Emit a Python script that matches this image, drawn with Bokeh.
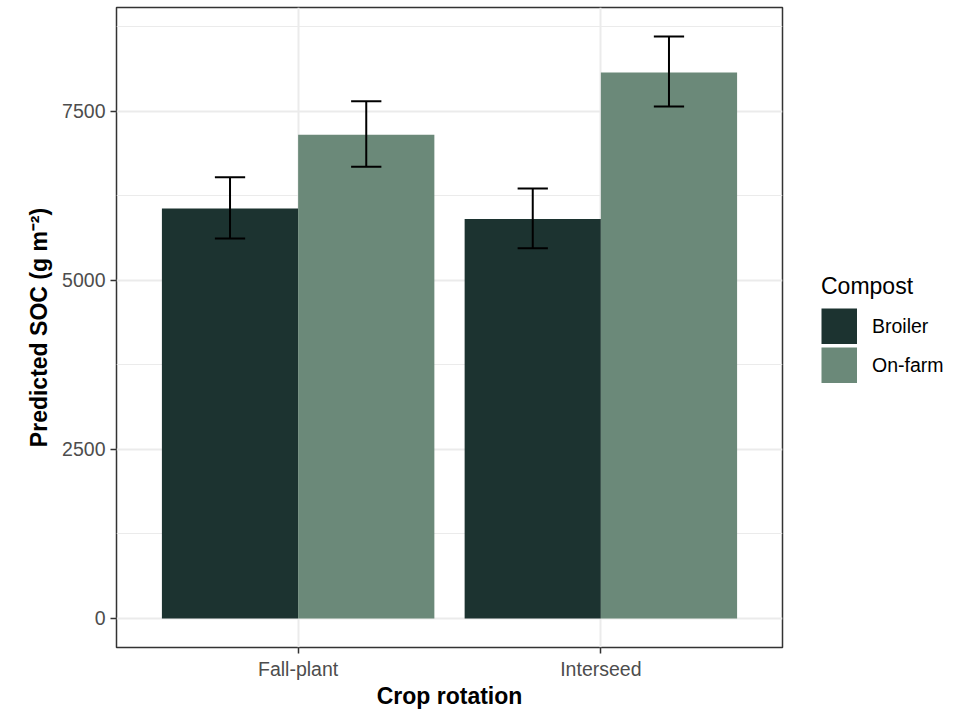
from bokeh.plotting import figure
from bokeh.layouts import row
from bokeh.models import Range1d, FixedTicker, Legend, LegendItem, ColumnDataSource
from bokeh.embed import file_html
from bokeh.resources import INLINE

# ---- data ----
rotations = ["Fall-plant", "Interseed"]
composts = ["Broiler", "On-farm"]
broiler_mean = [6060, 5905]
broiler_lo = [5615, 5470]
broiler_hi = [6520, 6355]
onfarm_mean = [7150, 8070]
onfarm_lo = [6675, 7565]
onfarm_hi = [7645, 8600]
y_ticks = [0, 2500, 5000, 7500]
y_minor = [1250, 3750, 6250, 8750]
colors = ["#1c3330", "#6b8979"]

means = [broiler_mean, onfarm_mean]
los = [broiler_lo, onfarm_lo]
his = [broiler_hi, onfarm_hi]

dodge = 0.9
bar_w = dodge / len(composts)
cap_w = 0.1

top = max(max(h) for h in his)
pad = 0.05 * top
n = len(rotations)

p = figure(frame_width=666, frame_height=640,
           x_range=Range1d(0.4, n + 0.6), y_range=Range1d(-pad, top + pad),
           output_backend="svg", toolbar_location=None,
           min_border_left=116, min_border_right=10,
           min_border_top=7, min_border_bottom=60)

p.background_fill_color = "white"
p.border_fill_color = "white"
p.outline_line_color = "#333333"
p.outline_line_width = 1.5

for k, comp in enumerate(composts):
    xs = [i + 1 - dodge / 2 + bar_w * (k + 0.5) for i in range(n)]
    src = ColumnDataSource(dict(x=xs, top=means[k], lo=los[k], hi=his[k],
                                x0=[x - cap_w / 2 for x in xs],
                                x1=[x + cap_w / 2 for x in xs]))
    p.vbar(x="x", top="top", bottom=0, width=bar_w, source=src,
           fill_color=colors[k], line_color=None)
    p.segment(x0="x", y0="lo", x1="x", y1="hi", source=src,
              line_color="black", line_width=2)
    p.segment(x0="x0", y0="hi", x1="x1", y1="hi", source=src,
              line_color="black", line_width=2)
    p.segment(x0="x0", y0="lo", x1="x1", y1="lo", source=src,
              line_color="black", line_width=2)

# axes
p.xaxis.ticker = FixedTicker(ticks=list(range(1, n + 1)))
p.xaxis.major_label_overrides = {i + 1: lab for i, lab in enumerate(rotations)}
p.yaxis.ticker = FixedTicker(ticks=y_ticks, minor_ticks=y_minor)
p.yaxis.formatter.use_scientific = False

for ax in (p.xaxis, p.yaxis):
    ax.axis_line_color = None
    ax.major_tick_line_color = "#333333"
    ax.major_tick_line_width = 1.5
    ax.major_tick_out = 6
    ax.major_tick_in = 0
    ax.minor_tick_line_color = None
    ax.major_label_text_font = "Liberation Sans"
    ax.major_label_text_font_size = "19.5px"
    ax.major_label_text_color = "#4d4d4d"
    ax.axis_label_text_font = "Liberation Sans"
    ax.axis_label_text_font_size = "23px"
    ax.axis_label_text_font_style = "bold"
    ax.axis_label_text_color = "black"

p.xaxis.axis_label = "Crop rotation"
p.yaxis.axis_label = "Predicted SOC (g m\u207b\u00b2)"
p.xaxis.major_label_standoff = 4
p.xaxis.axis_label_standoff = 0
p.yaxis.major_label_standoff = 5
p.yaxis.axis_label_standoff = 7

# grid
p.xgrid.grid_line_color = "#ebebeb"
p.xgrid.grid_line_width = 2
p.ygrid.grid_line_color = "#ebebeb"
p.ygrid.grid_line_width = 2
p.ygrid.minor_grid_line_color = "#ebebeb"
p.ygrid.minor_grid_line_width = 1

# ---- legend panel (separate figure so the legend is not clipped) ----
lf = figure(width=176, height=700, x_range=Range1d(0, 1), y_range=Range1d(0, 1),
            output_backend="svg", toolbar_location=None, min_border=0)
lf.axis.visible = False
lf.grid.visible = False
lf.outline_line_color = None
lf.background_fill_color = "white"
lf.border_fill_color = "white"

key = 36
items = []
for k, comp in enumerate(composts):
    # off-screen proxy; a thick butt-capped line gives a full-size square key
    r = lf.line(x=[-5, -4], y=[-5, -5], line_color=colors[k],
                line_width=key, line_cap="butt")
    items.append(LegendItem(label=comp, renderers=[r]))

legend = Legend(items=items, location=(29, 253),
                title="Compost",
                title_text_font="Liberation Sans", title_text_font_size="23px",
                title_text_font_style="normal",
                title_text_color="black", title_standoff=8,
                label_text_font="Liberation Sans", label_text_font_size="19.5px",
                label_text_color="black", label_standoff=15,
                glyph_width=key, glyph_height=key, spacing=3,
                padding=10, margin=0,
                border_line_color=None, background_fill_alpha=0)
lf.add_layout(legend)

layout = row(p, lf)
open("out.html", "w").write(file_html(layout, INLINE))
